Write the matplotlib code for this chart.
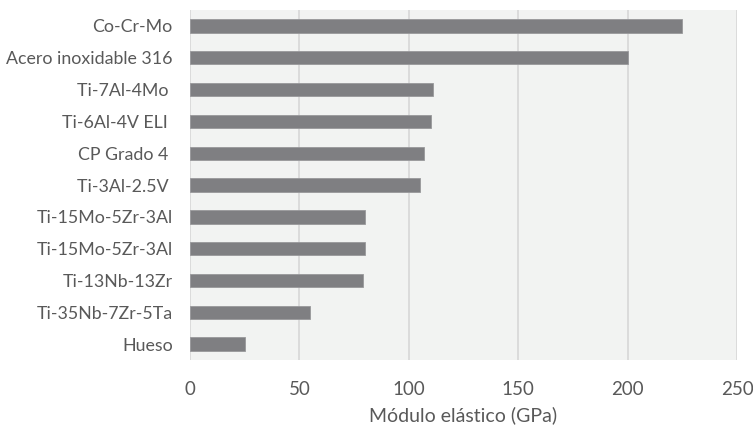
import matplotlib.pyplot as plt

# Elastic modulus of implant materials (GPa), listed bottom to top
materiales = ["Hueso", "Ti-35Nb-7Zr-5Ta", "Ti-13Nb-13Zr", "Ti-15Mo-5Zr-3Al",
              "Ti-15Mo-5Zr-3Al", "Ti-3Al-2.5V ", "CP Grado 4 ", "Ti-6Al-4V ELI ",
              "Ti-7Al-4Mo ", "Acero inoxidable 316", "Co-Cr-Mo"]
modulo = [25, 55, 79, 80, 80, 105, 107, 110, 111, 200, 225]
ticks_x = [0, 50, 100, 150, 200, 250]

plt.rcParams['font.family'] = ['Lato', 'DejaVu Sans']
texto = '#595959'

fig = plt.figure(figsize=(7.53, 4.25), dpi=100)
ax = fig.add_axes([190 / 753, 65 / 425, 547 / 753, 350 / 425])
ax.set_facecolor('#f2f3f2')

pos = list(range(len(materiales)))
ax.barh(pos, modulo, height=0.42, color='#7f7f82', edgecolor='#98989b',
        linewidth=0.6, zorder=3)

ax.set_xlim(0, 250)
ax.set_ylim(-0.5, len(materiales) - 0.5)
ax.set_xticks(ticks_x)
ax.set_xticklabels([str(t) for t in ticks_x])
ax.set_yticks(pos)
ax.set_yticklabels(materiales)

ax.grid(axis='x', color='#d9d9d9', linewidth=1.3, zorder=0)
for s in ax.spines.values():
    s.set_visible(False)
ax.tick_params(axis='both', length=0, colors=texto)
ax.tick_params(axis='x', pad=15, labelsize=13.5)
ax.tick_params(axis='y', pad=12.5, labelsize=12.8)
ax.set_xlabel('Módulo elástico (GPa)', color=texto, fontsize=14, labelpad=6)

fig.savefig('out.png', dpi=100, facecolor='white')
